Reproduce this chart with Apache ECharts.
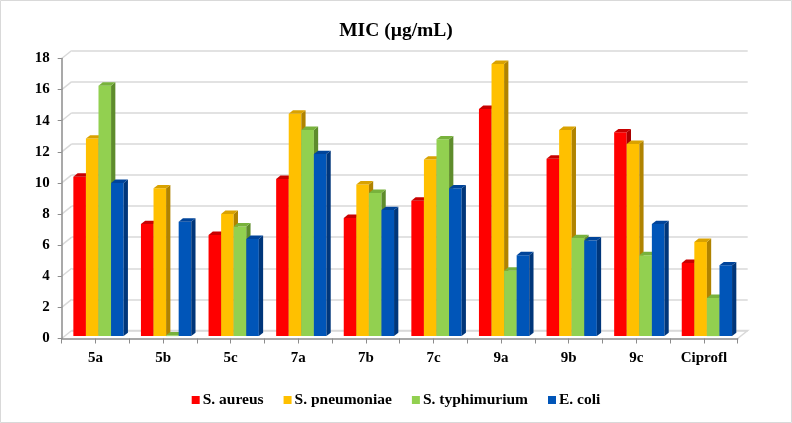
<!DOCTYPE html>
<html>
<head>
<meta charset="utf-8">
<script src="https://cdn.jsdelivr.net/npm/echarts@6/dist/echarts.min.js"></script>
<style>html,body{margin:0;padding:0;background:#fff}#c{width:792px;height:423px}</style>
</head>
<body>
<div id="c"></div>
<script>
const categories = ['5a','5b','5c','7a','7b','7c','9a','9b','9c','Ciprofl'];
const seriesNames = ['S. aureus','S. pneumoniae','S. typhimurium','E. coli'];
const sAureus      = [10.25, 7.2, 6.5, 10.1, 7.6, 8.7, 14.6, 11.4, 13.1, 4.7];
const sPneumoniae  = [12.7, 9.5, 7.85, 14.3, 9.75, 11.35, 17.5, 13.25, 12.35, 6.05];
const sTyphimurium = [16.1, 0.05, 7.05, 13.25, 9.2, 12.65, 4.2, 6.3, 5.2, 2.45];
const eColi        = [9.85, 7.35, 6.25, 11.7, 8.1, 9.5, 5.2, 6.15, 7.2, 4.55];
const yTicks = [0, 2, 4, 6, 8, 10, 12, 14, 16, 18];

const values = [sAureus, sPneumoniae, sTyphimurium, eColi];
const palette = [
  {front:'#ff0000', side:'#a80000', top:'#c80000'},
  {front:'#ffc000', side:'#b08300', top:'#d9a200'},
  {front:'#92d050', side:'#5e8c2c', top:'#78b23c'},
  {front:'#0055b8', side:'#00367a', top:'#00449a'}
];
const FONT = '"Liberation Serif","Times New Roman",serif';
const DX = 10, DY = 8;

function barRender(si){
  return function(params, api){
    const ci = api.value(0), v = api.value(1);
    const base = api.coord([ci, 0]);
    const top = api.coord([ci, v]);
    const bw = api.size([1, 0])[0] * 0.186;
    const x = base[0] - 2 * bw + si * bw;
    const dx = bw * 0.34, dy = bw * 0.27;
    const yT = top[1], yB = base[1];
    const c = palette[si];
    return {type:'group', children:[
      {type:'rect', shape:{x:x, y:yT, width:bw, height:yB - yT}, style:{fill:c.front}},
      {type:'polygon', shape:{points:[[x+bw,yT],[x+bw+dx,yT-dy],[x+bw+dx,yB-dy],[x+bw,yB]]}, style:{fill:c.side}},
      {type:'polygon', shape:{points:[[x,yT],[x+dx,yT-dy],[x+bw+dx,yT-dy],[x+bw,yT]]}, style:{fill:c.top}}
    ]};
  };
}

const axisFont = {fontFamily:FONT, fontWeight:'bold', color:'#000'};

const series = [
  {
    type:'custom', name:'diag', xAxisIndex:0, yAxisIndex:0, silent:true, z:1,
    data: yTicks.map(v => [0, v]),
    renderItem: function(params, api){
      const cs = params.coordSys;
      const y = api.coord([0, api.value(1)])[1];
      return {type:'line', shape:{x1:cs.x, y1:y, x2:cs.x+DX, y2:y-DY}, style:{stroke:'#d9d9d9', lineWidth:1.5}};
    }
  },
  {
    type:'custom', name:'floor', xAxisIndex:0, yAxisIndex:0, silent:true, z:1,
    data: [[0, 0]],
    renderItem: function(params, api){
      const cs = params.coordSys;
      const y = api.coord([0, 0])[1];
      const xr = cs.x + cs.width;
      return {type:'polyline', shape:{points:[[cs.x+DX, y-DY],[xr+DX, y-DY],[xr, y]]}, style:{stroke:'#d9d9d9', lineWidth:1.5, fill:null}};
    }
  }
];
values.forEach((arr, si) => {
  series.push({
    type:'custom', name: seriesNames[si], xAxisIndex:1, yAxisIndex:1, z:3,
    itemStyle:{color: palette[si].front},
    encode:{x:0, y:1},
    data: arr.map((v, i) => [i, v]),
    renderItem: barRender(si)
  });
});

const option = {
  animation:false,
  backgroundColor:'#fff',
  title:{text:'MIC (µg/mL)', left:'center', top:16, textStyle:{fontFamily:FONT, fontWeight:'bold', fontSize:19.5, color:'#000'}},
  legend:{
    data: seriesNames, left:'center', top:387, icon:'rect', itemWidth:8, itemHeight:8, itemGap:20,
    textStyle:{fontFamily:FONT, fontWeight:'bold', fontSize:15.5, color:'#000', padding:[0,0,0,-2]}
  },
  graphic:[{type:'rect', shape:{x:0.5, y:0.5, width:791, height:422}, style:{fill:null, stroke:'#d9d9d9', lineWidth:1}, z:-10, silent:true}],
  grid:[
    {left:61.7, top:58.5, width:676, height:280},
    {left:64.7, top:56.1, width:676, height:280},
    {left:71.7, top:50.5, width:676, height:280}
  ],
  xAxis:[
    {gridIndex:0, type:'category', data:categories, boundaryGap:true,
     axisLine:{lineStyle:{color:'#8c8c8c', width:1.5}},
     axisTick:{show:true, length:5, interval:0, lineStyle:{color:'#8c8c8c'}},
     axisLabel:{...axisFont, fontSize:15, margin:12, interval:0},
     splitLine:{show:false}, z:5},
    {gridIndex:1, type:'category', data:categories, show:false},
    {gridIndex:2, type:'category', data:categories, show:false},
    {gridIndex:0, type:'category', data:categories, position:'bottom', offset:0,
     axisLine:{show:false}, axisLabel:{show:false},
     axisTick:{show:true, alignWithLabel:true, length:5, interval:0, lineStyle:{color:'#8c8c8c'}}, z:5}
  ],
  yAxis:[
    {gridIndex:0, type:'value', min:0, max:18, interval:2,
     axisLine:{show:true, lineStyle:{color:'#8c8c8c', width:1.5}},
     axisTick:{show:true, length:4, lineStyle:{color:'#8c8c8c'}},
     axisLabel:{...axisFont, fontSize:15, margin:12},
     splitLine:{show:false}, z:5},
    {gridIndex:1, type:'value', min:0, max:18, interval:2, show:false},
    {gridIndex:2, type:'value', min:0, max:18, interval:2,
     axisLine:{show:false}, axisTick:{show:false}, axisLabel:{show:false},
     splitLine:{show:true, lineStyle:{color:'#d9d9d9', width:1.5}}}
  ],
  series: series
};
const chart = echarts.init(document.getElementById('c'), null, {renderer:'canvas'});
chart.setOption(option);
</script>
</body>
</html>
